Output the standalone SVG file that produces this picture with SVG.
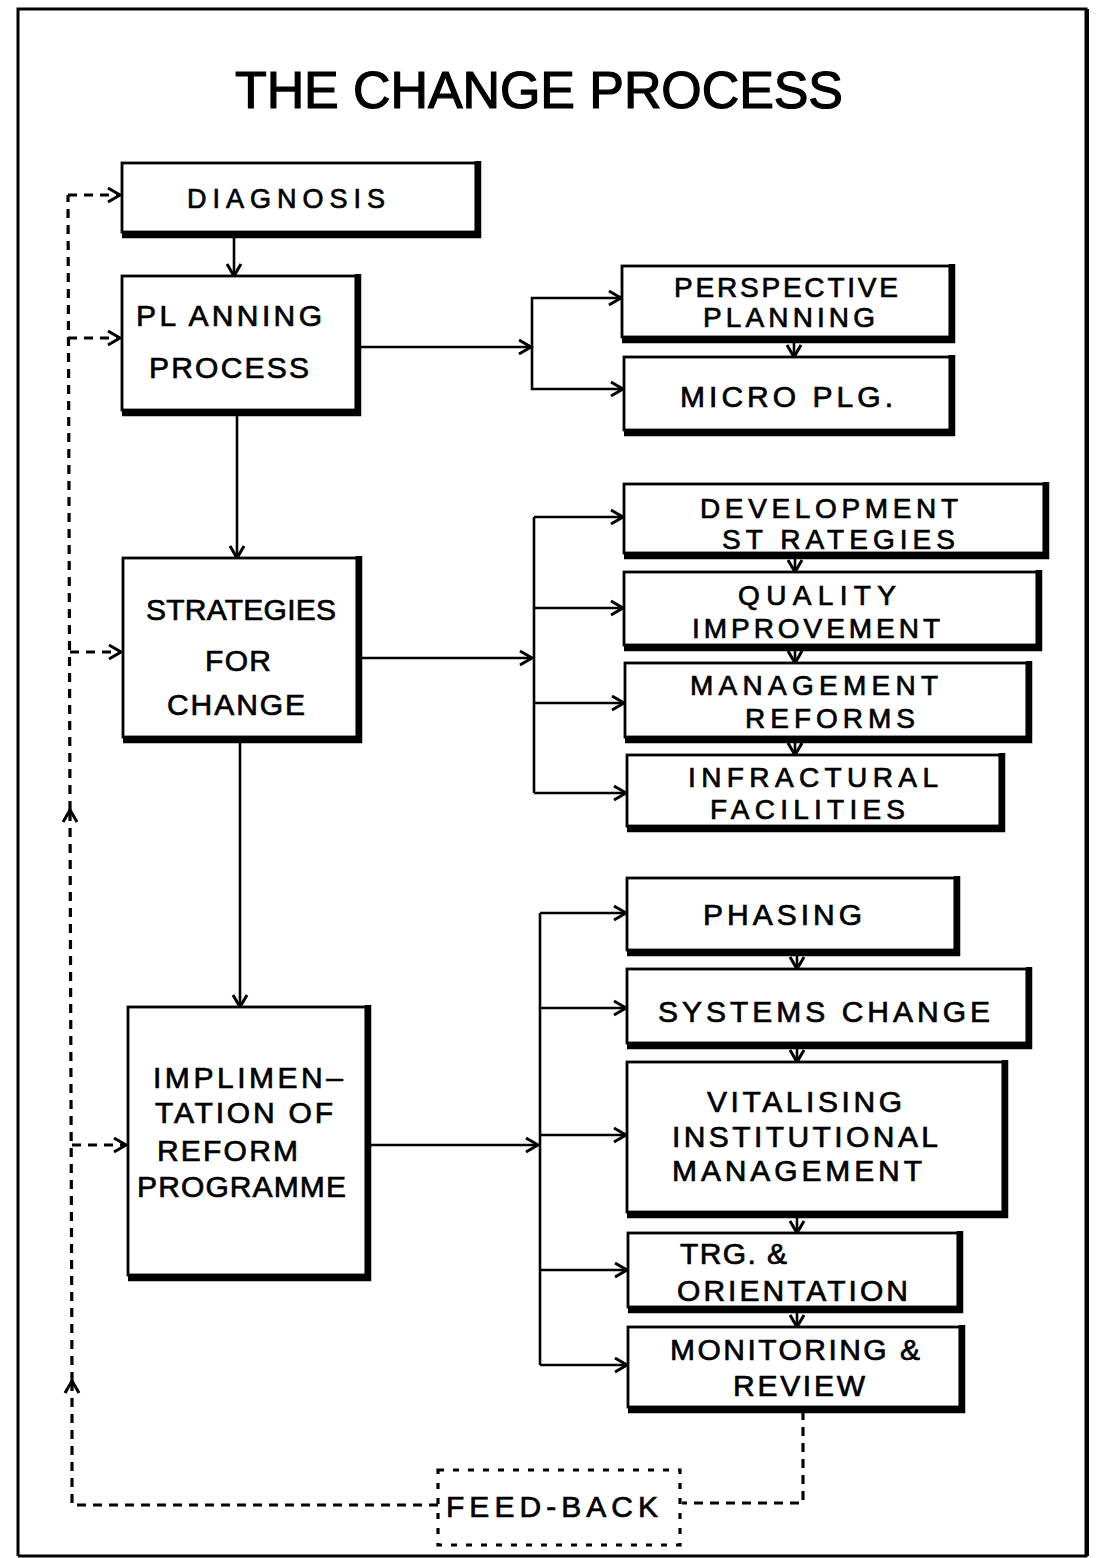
<svg xmlns="http://www.w3.org/2000/svg" width="1097" height="1558" viewBox="0 0 1097 1558">
<defs>
<marker id="arr" markerUnits="userSpaceOnUse" markerWidth="16" markerHeight="16" refX="13" refY="7" orient="auto" overflow="visible">
<path d="M1,0 L13,7 L1,14" fill="none" stroke="#000" stroke-width="3" stroke-linejoin="miter"/>
</marker>
<style>
.box{fill:#fff;stroke:#000;stroke-width:2.8}
.sh{fill:none;stroke:#000;stroke-width:6.5;stroke-linejoin:miter}
.t{font-family:"Liberation Sans",Arial,sans-serif;font-size:30px;fill:#000;stroke:#000;stroke-width:0.7}
.s{font-size:28px}
.ttl{font-family:"Liberation Sans",Arial,sans-serif;font-size:52px;fill:#000;stroke:#000;stroke-width:1.2}
.ln{fill:none;stroke:#000;stroke-width:2.6}
.fb{fill:none;stroke:#000;stroke-width:3.2;stroke-dasharray:9 7}
.fbox{fill:#fff;stroke:#000;stroke-width:3.2;stroke-dasharray:6 9}
</style>
</defs>
<rect x="0" y="0" width="1097" height="1558" fill="#fff"/>
<path d="M18,1556 V9 H1086 V1556 H18" fill="none" stroke="#000" stroke-width="3"/>
<line x1="1087" y1="9" x2="1087" y2="1556" stroke="#000" stroke-width="4"/>
<text class="ttl" x="235" y="108" textLength="608" lengthAdjust="spacing">THE CHANGE PROCESS</text>

<g id="connectors">
<line class="ln" x1="234" y1="236" x2="234" y2="276" marker-end="url(#arr)"/>
<line class="ln" x1="237" y1="413" x2="237" y2="558" marker-end="url(#arr)"/>
<line class="ln" x1="240" y1="740" x2="240" y2="1007" marker-end="url(#arr)"/>
<line class="ln" x1="359" y1="347" x2="531" y2="347" marker-end="url(#arr)"/>
<path class="ln" d="M532,347 V298 H621" marker-end="url(#arr)"/>
<path class="ln" d="M532,347 V389 H623" marker-end="url(#arr)"/>
<line class="ln" x1="794" y1="340" x2="794" y2="357" marker-end="url(#arr)"/>
<line class="ln" x1="360" y1="658" x2="532" y2="658" marker-end="url(#arr)"/>
<path class="ln" d="M534,517 V793"/>
<line class="ln" x1="534" y1="517" x2="623" y2="517" marker-end="url(#arr)"/>
<line class="ln" x1="534" y1="608" x2="623" y2="608" marker-end="url(#arr)"/>
<line class="ln" x1="534" y1="703" x2="624" y2="703" marker-end="url(#arr)"/>
<line class="ln" x1="534" y1="793" x2="626" y2="793" marker-end="url(#arr)"/>
<line class="ln" x1="795" y1="556" x2="795" y2="572" marker-end="url(#arr)"/>
<line class="ln" x1="795" y1="648" x2="795" y2="663" marker-end="url(#arr)"/>
<line class="ln" x1="795" y1="740" x2="795" y2="755" marker-end="url(#arr)"/>
<line class="ln" x1="369" y1="1145" x2="538" y2="1145" marker-end="url(#arr)"/>
<path class="ln" d="M540,913 V1365"/>
<line class="ln" x1="540" y1="913" x2="626" y2="913" marker-end="url(#arr)"/>
<line class="ln" x1="540" y1="1008" x2="626" y2="1008" marker-end="url(#arr)"/>
<line class="ln" x1="540" y1="1135" x2="626" y2="1135" marker-end="url(#arr)"/>
<line class="ln" x1="540" y1="1270" x2="627" y2="1270" marker-end="url(#arr)"/>
<line class="ln" x1="540" y1="1365" x2="627" y2="1365" marker-end="url(#arr)"/>
<line class="ln" x1="797" y1="953" x2="797" y2="969" marker-end="url(#arr)"/>
<line class="ln" x1="797" y1="1046" x2="797" y2="1062" marker-end="url(#arr)"/>
<line class="ln" x1="797" y1="1215" x2="797" y2="1233" marker-end="url(#arr)"/>
<line class="ln" x1="797" y1="1310" x2="797" y2="1327" marker-end="url(#arr)"/>
<path class="fb" d="M803,1411 V1503 H682"/>
<path class="fb" d="M438,1505 H72 V1381" marker-end="url(#arr)"/>
<path class="fb" d="M72,1381 L70,810" marker-end="url(#arr)"/>
<path class="fb" d="M70,810 L68,195"/>
<line class="fb" x1="68" y1="195" x2="120" y2="195" marker-end="url(#arr)"/>
<line class="fb" x1="68" y1="338" x2="120" y2="338" marker-end="url(#arr)"/>
<line class="fb" x1="70" y1="652" x2="121" y2="652" marker-end="url(#arr)"/>
<line class="fb" x1="72" y1="1145" x2="126" y2="1145" marker-end="url(#arr)"/>
</g>

<g id="diagnosis"><rect class="box" x="122" y="163" width="354" height="69"/><path class="sh" d="M478,161 V235 H122"/><text class="t" x="187" y="208" textLength="198" lengthAdjust="spacing" style="font-size:27px">DIAGNOSIS</text></g>
<g id="planning"><rect class="box" x="122" y="276" width="234" height="134"/><path class="sh" d="M358,274 V413 H122"/><text class="t" x="136" y="326" textLength="186" lengthAdjust="spacing">PL ANNING</text><text class="t" x="149" y="378" textLength="160" lengthAdjust="spacing">PROCESS</text></g>
<g id="strategies"><rect class="box" x="123" y="558" width="234" height="179"/><path class="sh" d="M359,556 V740 H123"/><text class="t" x="146" y="620" textLength="190" lengthAdjust="spacing">STRATEGIES</text><text class="t" x="205" y="671" textLength="66" lengthAdjust="spacing">FOR</text><text class="t" x="167" y="715" textLength="138" lengthAdjust="spacing">CHANGE</text></g>
<g id="implementation"><rect class="box" x="128" y="1007" width="238" height="268"/><path class="sh" d="M368,1005 V1278 H128"/><text class="t" x="153" y="1088" textLength="190" lengthAdjust="spacing">IMPLIMEN–</text><text class="t" x="155" y="1123" textLength="178" lengthAdjust="spacing">TATION OF</text><text class="t" x="157" y="1161" textLength="141" lengthAdjust="spacing">REFORM</text><text class="t" x="137" y="1197" textLength="209" lengthAdjust="spacing">PROGRAMME</text></g>

<g id="perspective"><rect class="box" x="622" y="266" width="328" height="71"/><path class="sh" d="M952,264 V340 H622"/><text class="t s" x="674" y="297" textLength="224" lengthAdjust="spacing">PERSPECTIVE</text><text class="t s" x="703" y="327" textLength="172" lengthAdjust="spacing">PLANNING</text></g>
<g id="micro"><rect class="box" x="624" y="357" width="326" height="73"/><path class="sh" d="M952,355 V433 H624"/><text class="t" x="680" y="407" textLength="213" lengthAdjust="spacing">MICRO PLG.</text></g>
<g id="development"><rect class="box" x="624" y="484" width="420" height="69"/><path class="sh" d="M1046,482 V556 H624"/><text class="t s" x="700" y="518" textLength="258" lengthAdjust="spacing">DEVELOPMENT</text><text class="t s" x="722" y="549" textLength="233" lengthAdjust="spacing">ST RATEGIES</text></g>
<g id="quality"><rect class="box" x="624" y="572" width="413" height="73"/><path class="sh" d="M1039,570 V648 H624"/><text class="t s" x="738" y="605" textLength="158" lengthAdjust="spacing">QUALITY</text><text class="t s" x="692" y="638" textLength="248" lengthAdjust="spacing">IMPROVEMENT</text></g>
<g id="management"><rect class="box" x="625" y="663" width="402" height="74"/><path class="sh" d="M1029,661 V740 H625"/><text class="t s" x="690" y="695" textLength="248" lengthAdjust="spacing">MANAGEMENT</text><text class="t s" x="745" y="728" textLength="170" lengthAdjust="spacing">REFORMS</text></g>
<g id="infractural"><rect class="box" x="627" y="755" width="373" height="71"/><path class="sh" d="M1002,753 V829 H627"/><text class="t s" x="688" y="787" textLength="250" lengthAdjust="spacing">INFRACTURAL</text><text class="t s" x="710" y="819" textLength="195" lengthAdjust="spacing">FACILITIES</text></g>
<g id="phasing"><rect class="box" x="627" y="878" width="328" height="72"/><path class="sh" d="M957,876 V953 H627"/><text class="t" x="703" y="925" textLength="159" lengthAdjust="spacing">PHASING</text></g>
<g id="systems"><rect class="box" x="627" y="969" width="400" height="74"/><path class="sh" d="M1029,967 V1046 H627"/><text class="t" x="658" y="1022" textLength="332" lengthAdjust="spacing">SYSTEMS CHANGE</text></g>
<g id="vitalising"><rect class="box" x="627" y="1062" width="376" height="150"/><path class="sh" d="M1005,1060 V1215 H627"/><text class="t" x="707" y="1112" textLength="195" lengthAdjust="spacing">VITALISING</text><text class="t" x="672" y="1147" textLength="266" lengthAdjust="spacing">INSTITUTIONAL</text><text class="t" x="672" y="1181" textLength="250" lengthAdjust="spacing">MANAGEMENT</text></g>
<g id="training"><rect class="box" x="628" y="1233" width="330" height="74"/><path class="sh" d="M960,1231 V1310 H628"/><text class="t" x="680" y="1264" textLength="107" lengthAdjust="spacing">TRG. &amp;</text><text class="t" x="677" y="1301" textLength="231" lengthAdjust="spacing">ORIENTATION</text></g>
<g id="monitoring"><rect class="box" x="628" y="1327" width="332" height="80"/><path class="sh" d="M962,1325 V1410 H628"/><text class="t" x="670" y="1360" textLength="250" lengthAdjust="spacing">MONITORING &amp;</text><text class="t" x="733" y="1396" textLength="132" lengthAdjust="spacing">REVIEW</text></g>
<g id="feedback"><rect class="fbox" x="438" y="1470" width="242" height="75"/><text class="t" x="446" y="1517" textLength="212" lengthAdjust="spacing">FEED-BACK</text></g>
</svg>
